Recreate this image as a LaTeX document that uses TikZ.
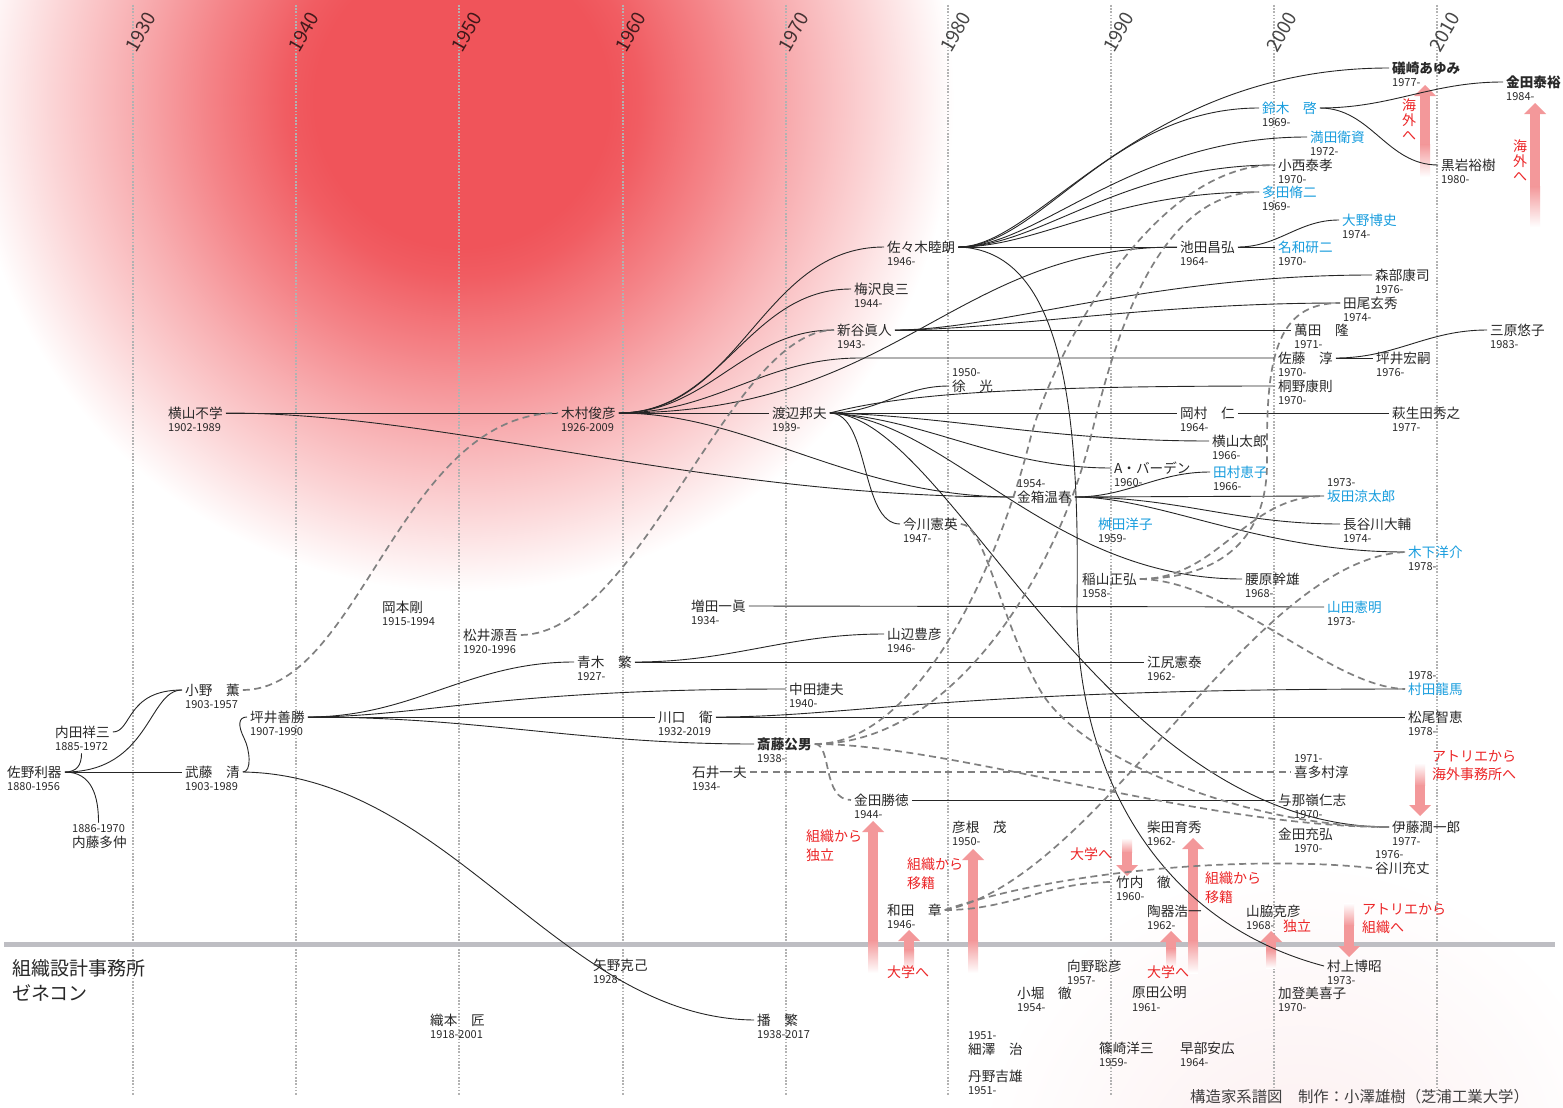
\documentclass[tikz,border=0pt]{standalone}
\usepackage{fontspec}
\setmainfont{Noto Sans CJK JP}
\definecolor{blobred}{RGB}{240,84,90}
\colorlet{blobA}{blobred!95!white}
\colorlet{blobB}{blobred!72!white}
\colorlet{blobC}{blobred!47!white}
\colorlet{blobD}{blobred!24!white}
\definecolor{glowc}{RGB}{252,238,239}
\definecolor{nameblue}{RGB}{24,157,222}
\definecolor{annred}{RGB}{236,38,40}
\definecolor{arrpink}{RGB}{243,152,154}
\definecolor{txt}{RGB}{40,40,40}
\definecolor{bandgray}{RGB}{190,190,195}
\pgfdeclareradialshading{blob}{\pgfpoint{0bp}{0bp}}{color(0bp)=(blobred); color(7.5bp)=(blobred); color(9bp)=(blobA); color(13bp)=(blobB); color(17bp)=(blobC); color(21bp)=(blobD); color(25bp)=(white); color(50bp)=(white)}
\pgfdeclareradialshading{glow}{\pgfpoint{0bp}{0bp}}{color(0bp)=(glowc); color(25bp)=(white); color(50bp)=(white)}
\tikzset{
  nm/.style={font=\fontsize{13.6}{16}\selectfont, text=txt, inner xsep=3pt, inner ysep=1pt, anchor=west},
  nmb/.style={font=\fontsize{13.6}{16}\selectfont\bfseries},
  yr/.style={font=\fontsize{11}{13}\selectfont, text=txt, inner sep=0pt, anchor=west},
  ln/.style={draw=black!85, line width=0.9pt},
  dsh/.style={draw=black!50, line width=1.7pt, dash pattern=on 7pt off 4.5pt},
  guide/.style={draw=black!30, line width=1.8pt, dash pattern=on 1.6pt off 1.6pt},
  yrl/.style={rotate=60, anchor=base west, font=\fontsize{19}{22}\selectfont, text=black, text opacity=0.72, inner sep=0pt},
  ann/.style={font=\fontsize{14}{18.5}\selectfont, text=annred, inner sep=0pt, anchor=north west, align=left},
  annv/.style={font=\fontsize{14}{15}\selectfont, text=annred, inner sep=0pt, anchor=north, align=center},
}
\newcommand\pp[6][]{\node[nm,#1] (#2) at (#3-3,#4) {#5};\node[yr] (#2y) at (#3,#4+15) {#6};}
\newcommand\pu[6][]{\node[nm,#1] (#2) at (#3-3,#4) {#5};\node[yr] (#2y) at (#3,#4-13) {#6};}
\newcommand\arrup[4][32]{%
  \fill[arrpink] (#2-5,#3+10) rectangle (#2+5,#4-#1);
  \shade[top color=arrpink,bottom color=white] (#2-5,#4-#1-0.5) rectangle (#2+5,#4);
  \fill[arrpink] (#2-11,#3+11) -- (#2,#3) -- (#2+11,#3+11) -- cycle;}
\newcommand\arrdn[4][32]{%
  \shade[top color=white,bottom color=arrpink] (#2-5,#3) rectangle (#2+5,#3+#1+0.5);
  \fill[arrpink] (#2-5,#3+#1) rectangle (#2+5,#4-10);
  \fill[arrpink] (#2-11,#4-11) -- (#2,#4) -- (#2+11,#4-11) -- cycle;}
\begin{document}
\begin{tikzpicture}[x=1pt,y=-1pt]
\useasboundingbox (0,0) rectangle (1563,1108);
\fill[white] (0,0) rectangle (1563,1108);
\begin{scope}
\clip (0,0) rectangle (1563,1108);
\shade[shading=blob] (462,100) circle[radius=492pt];
\shade[shading=glow] (1300,1190) circle[radius=330pt];
\end{scope}
% decade guides
\foreach \gx/\gy in {133/1930,296/1940,459/1950,623/1960,786/1970,948/1980,1111/1990,1274/2000,1437/2010}{
  \draw[guide] (\gx,5) -- (\gx,1095);
  \node[yrl] (g\gy) at (\gx+3,54) {\gy};
}
% band
\fill[bandgray] (4,941.5) rectangle (1555,946.5);
% arrows
\arrup{1425}{85}{177}
\arrup[40]{1535}{103}{227}
\arrdn[22]{1420}{763}{816}
\arrup{873}{821}{973}
\arrup{973}{849}{973}
\arrup[20]{909}{930}{970}
\arrdn[14]{1127}{838}{876}
\arrup{1193}{838}{973}
\arrup[18]{1171}{931}{967}
\arrup[18]{1271}{931}{968}
\arrdn[22]{1349}{903}{957}
% annotations
\node[annv] (a1) at (1409,99) {海\\外\\へ};
\node[annv] (a2) at (1520,140) {海\\外\\へ};
\node[ann] (a3) at (1432,750) {アトリエから\\海外事務所へ};
\node[ann] (a4) at (806,830) {組織から\\独立};
\node[ann] (a5) at (907,858) {組織から\\移籍};
\node[ann] (a6) at (887,965) {大学へ};
\node[ann] (a7) at (1070,847) {大学へ};
\node[ann] (a8) at (1205,872) {組織から\\移籍};
\node[ann] (a9) at (1147,965) {大学へ};
\node[ann] (a10) at (1283,920) {独立};
\node[ann] (a11) at (1362,903) {アトリエから\\組織へ};
\node[anchor=north west, align=left, font=\fontsize{19}{25}\selectfont, text=txt, inner sep=0pt] (org) at (12,959) {組織設計事務所\\ゼネコン};
\node[anchor=west, font=\fontsize{15.4}{18}\selectfont, text=black!75, inner sep=0pt] (credit) at (1190,1097) {構造家系譜図　制作：小澤雄樹（芝浦工業大学）};
% people
\pp{sano}{7}{772}{佐野利器}{1880-1956}
\pp{uchida}{55}{732}{内田祥三}{1885-1972}
\pu{naito}{72}{842}{内藤多仲}{1886-1970}
\pp{ono}{185}{690}{小野　薫}{1903-1957}
\pp{tsuboi}{250}{717}{坪井善勝}{1907-1990}
\pp{muto}{185}{772}{武藤　清}{1903-1989}
\pp{yokoyama}{168}{413}{横山不学}{1902-1989}
\pp{okamoto}{382}{607}{岡本剛}{1915-1994}
\pp{matsui}{463}{635}{松井源吾}{1920-1996}
\pp{kimura}{561}{413}{木村俊彦}{1926-2009}
\pp{watanabe}{772}{413}{渡辺邦夫}{1939-}
\pu{jo}{952}{386}{徐　光}{1950-}
\pp{imagawa}{903}{524}{今川憲英}{1947-}
\pp{masuda}{691}{606}{増田一眞}{1934-}
\pp{yamabe}{887}{634}{山辺豊彦}{1946-}
\pp{aoki}{577}{662}{青木　繁}{1927-}
\pp{nakata}{789}{689}{中田捷夫}{1940-}
\pp{kawaguchi}{658}{717}{川口　衛}{1932-2019}
\pp[nmb]{saito}{757}{744}{斎藤公男}{1938-}
\pp{ishii}{692}{772}{石井一夫}{1934-}
\pp{kanedak}{854}{800}{金田勝徳}{1944-}
\pp{hikone}{952}{827}{彦根　茂}{1950-}
\pp{wada}{887}{910}{和田　章}{1946-}
\pp{sasaki}{887}{247}{佐々木睦朗}{1946-}
\pp{umezawa}{854}{289}{梅沢良三}{1944-}
\pp{araya}{837}{330}{新谷眞人}{1943-}
\pp[nmb]{isozaki}{1392}{68}{礒崎あゆみ}{1977-}
\pp[nmb]{kanedaY}{1506}{82}{金田泰裕}{1984-}
\pp[text=nameblue]{suzuki}{1262}{108}{鈴木　啓}{1969-}
\pp[text=nameblue]{mitsuda}{1310}{137}{満田衛資}{1972-}
\pp{konishi}{1278}{165}{小西泰孝}{1970-}
\pp[text=nameblue]{tada}{1262}{192}{多田脩二}{1969-}
\pp[text=nameblue]{ohno}{1342}{220}{大野博史}{1974-}
\pp{ikeda}{1180}{247}{池田昌弘}{1964-}
\pp[text=nameblue]{nawa}{1278}{247}{名和研二}{1970-}
\pp{kuroiwa}{1441}{165}{黒岩裕樹}{1980-}
\pp{morobe}{1375}{275}{森部康司}{1976-}
\pp{tao}{1343}{303}{田尾玄秀}{1974-}
\pp{manda}{1294}{330}{萬田　隆}{1971-}
\pp{mihara}{1490}{330}{三原悠子}{1983-}
\pp{sato}{1278}{358}{佐藤　淳}{1970-}
\pp{tsuboiH}{1376}{358}{坪井宏嗣}{1976-}
\pp{kirino}{1278}{386}{桐野康則}{1970-}
\pp{okamura}{1180}{413}{岡村　仁}{1964-}
\pp{hagiuda}{1392}{413}{萩生田秀之}{1977-}
\pp{ytaro}{1212}{441}{横山太郎}{1966-}
\pp{barden}{1114}{468}{A・バーデン}{1960-}
\pp[text=nameblue]{tamura}{1213}{472}{田村恵子}{1966-}
\pu{kanebako}{1017}{497}{金箱温春}{1954-}
\pu[text=nameblue]{sakata}{1327}{496}{坂田涼太郎}{1973-}
\pp{hasegawa}{1343}{524}{長谷川大輔}{1974-}
\pp[text=nameblue]{masudaY}{1098}{524}{桝田洋子}{1959-}
\pp[text=nameblue]{kinoshita}{1408}{552}{木下洋介}{1978-}
\pp{inayama}{1082}{579}{稲山正弘}{1958-}
\pp{koshihara}{1245}{579}{腰原幹雄}{1968-}
\pp[text=nameblue]{yamada}{1327}{607}{山田憲明}{1973-}
\pp{ejiri}{1147}{662}{江尻憲泰}{1962-}
\pu[text=nameblue]{murata}{1408}{689}{村田龍馬}{1978-}
\pp{matsuo}{1408}{717}{松尾智恵}{1978-}
\pu{kitamura}{1294}{772}{喜多村淳}{1971-}
\node[nm] (yonamine) at (1275,800) {与那嶺仁志};
\node[yr] (yonaminey) at (1294,815) {1970-};
\pp{ito}{1392}{827}{伊藤潤一郎}{1977-}
\node[nm] (kanedam) at (1275,834) {金田充弘};
\node[yr] (kanedamy) at (1294,849) {1970-};
\pu{tanikawa}{1375}{868}{谷川充丈}{1976-}
\pp{shibata}{1147}{827}{柴田育秀}{1962-}
\pp{takeuchi}{1116}{882}{竹内　徹}{1960-}
\pp{toki}{1147}{911}{陶器浩一}{1962-}
\pp{yamawaki}{1246}{911}{山脇克彦}{1968-}
\pp{murakami}{1327}{966}{村上博昭}{1973-}
\pp{kono}{1067}{966}{向野聡彦}{1957-}
\pp{harada}{1132}{993}{原田公明}{1961-}
\pp{kato}{1278}{993}{加登美喜子}{1970-}
\pp{shinozaki}{1099}{1048}{篠崎洋三}{1959-}
\pp{hayabe}{1180}{1048}{早部安広}{1964-}
\pp{kobori}{1017}{993}{小堀　徹}{1954-}
\pu{hosozawa}{968}{1049}{細澤　治}{1951-}
\pp{tanno}{968}{1076}{丹野吉雄}{1951-}
\pp{yano}{593}{965}{矢野克己}{1928-}
\pp{ban}{757}{1020}{播　繁}{1938-2017}
\pp{orimoto}{430}{1020}{織本　匠}{1918-2001}
% solid connectors
\draw[ln] (sano.east) .. controls +(12,0) and +(0,12) .. ([yshift=-2pt]uchiday.south);
\draw[ln] (sano.east) .. controls +(28,0) and +(0,-25) .. ([yshift=2pt]naitoy.north);
\draw[ln] (sano.east) -- (muto.west);
\draw[ln] (sano.east) .. controls (150,772) and (148,690) .. (ono.west);
\draw[ln] (uchida.east) .. controls (132,732) and (126,690) .. (ono.west);
\draw[ln] (muto.east) .. controls (252,772) and (250,750) .. (244,738) .. controls (238,726) and (238,717) .. (tsuboi.west);
\draw[ln] (muto.east) .. controls (450,775) and (560,1018) .. (ban.west);
\draw[ln] (yokoyama.east) -- (kimura.west);
\draw[ln] (yokoyama.east) .. controls (450,413) and (700,497) .. (kanebako.west);
\draw[ln] (kimura.east) to[out=0,in=180] (sasaki.west);
\draw[ln] (kimura.east) to[out=0,in=180] (umezawa.west);
\draw[ln] (kimura.east) to[out=0,in=180] (araya.west);
\draw[ln] (kimura.east) to[out=0,in=180] (860,358) -- (sato.west);
\draw[ln] (kimura.east) .. controls (900,413) and (950,247) .. (ikeda.west);
\draw[ln] (kimura.east) -- (watanabe.west);
\draw[ln] (kimura.east) .. controls (750,413) and (850,497) .. (kanebako.west);
\draw[ln] (watanabe.east) to[out=0,in=180] (jo.west);
\draw[ln] (watanabe.east) -- (okamura.west);
\draw[ln] (watanabe.east) .. controls (900,395) and (1000,386) .. (kirino.west);
\draw[ln] (watanabe.east) .. controls (950,416) and (1050,441) .. (ytaro.west);
\draw[ln] (watanabe.east) .. controls (930,420) and (1000,468) .. (barden.west);
\draw[ln] (watanabe.east) .. controls (950,420) and (1050,579) .. (koshihara.west);
\draw[ln] (watanabe.east) .. controls (950,413) and (1100,827) .. (ito.west);
\draw[ln] (watanabe.east) .. controls (870,413) and (860,524) .. (imagawa.west);
\draw[ln] (sasaki.east) .. controls (1040,247) and (1140,68) .. (isozaki.west);
\draw[ln] (sasaki.east) .. controls (1040,247) and (1110,108) .. (suzuki.west);
\draw[ln] (sasaki.east) .. controls (1040,247) and (1130,137) .. (mitsuda.west);
\draw[ln] (sasaki.east) .. controls (1040,247) and (1120,165) .. (konishi.west);
\draw[ln] (sasaki.east) .. controls (1040,247) and (1110,192) .. (tada.west);
\draw[ln] (sasaki.east) -- (ikeda.west);
\draw[ln] (sasaki.east) .. controls (1060,250) and (1080,400) .. (1077,600) .. controls (1074,760) and (1150,920) .. (murakami.west);
\draw[ln] (ikeda.east) -- (nawa.west);
\draw[ln] (ikeda.east) to[out=0,in=180] (ohno.west);
\draw[ln] (suzuki.east) to[out=0,in=180] (kanedaY.west);
\draw[ln] (suzuki.east) to[out=0,in=180] (kuroiwa.west);
\draw[ln] (araya.east) -- (manda.west);
\draw[ln] (araya.east) .. controls (1000,330) and (1150,275) .. (morobe.west);
\draw[ln] (araya.east) .. controls (1000,330) and (1150,303) .. (tao.west);
\draw[ln] (sato.east) -- (tsuboiH.west);
\draw[ln] (sato.east) to[out=0,in=180] (mihara.west);
\draw[ln] (okamura.east) -- (hagiuda.west);
\draw[ln] (kanebako.east) to[out=0,in=180] (tamura.west);
\draw[ln] (kanebako.east) -- (sakata.west);
\draw[ln] (kanebako.east) to[out=0,in=180] (hasegawa.west);
\draw[ln] (kanebako.east) .. controls (1160,497) and (1260,552) .. (kinoshita.west);
\draw[ln] (aoki.east) to[out=0,in=180] (yamabe.west);
\draw[ln] (aoki.east) -- (ejiri.west);
\draw[ln] (tsuboi.east) to[out=0,in=180] (aoki.west);
\draw[ln] (tsuboi.east) .. controls (420,717) and (500,689) .. (nakata.west);
\draw[ln] (tsuboi.east) -- (kawaguchi.west);
\draw[ln] (tsuboi.east) to[out=0,in=180] (saito.west);
\draw[ln] (kawaguchi.east) -- (matsuo.west);
\draw[ln] (kawaguchi.east) .. controls (850,717) and (950,689) .. (murata.west);
\draw[ln] (masuda.east) -- (yamada.west);
\draw[ln] (kanedak.east) -- (yonamine.west);
% dashed connectors
\draw[dsh] (ono.east) .. controls (360,690) and (400,413) .. (kimura.west);
\draw[dsh] (matsui.east) .. controls (640,634) and (730,330) .. (araya.west);
\draw[dsh] (saito.east) .. controls (832,744) and (822,800) .. (kanedak.west);
\draw[dsh] (saito.east) .. controls (920,744) and (1000,560) .. (1030,440) .. controls (1050,360) and (1150,165) .. (konishi.west);
\draw[dsh] (saito.east) .. controls (960,744) and (1060,560) .. (1090,440) .. controls (1110,360) and (1150,192) .. (tada.west);
\draw[dsh] (saito.east) .. controls (950,744) and (1200,827) .. (ito.west);
\draw[dsh] (imagawa.east) .. controls (985,524) and (1000,620) .. (1040,690) .. controls (1080,760) and (1250,827) .. (ito.west);
\draw[dsh] (ishii.east) -- (kitamura.west);
\draw[dsh] (wada.east) to[out=0,in=180] (takeuchi.west);
\draw[dsh] (wada.east) .. controls (1060,870) and (1250,855) .. (tanikawa.west);
\draw[dsh] (wada.east) .. controls (1100,880) and (1250,560) .. (kinoshita.west);
\draw[dsh] (inayama.east) to[out=0,in=180] (sakata.west);
\draw[dsh] (inayama.east) .. controls (1220,578) and (1268,540) .. (1267,460) .. controls (1266,360) and (1275,303) .. (tao.west);
\draw[dsh] (inayama.east) .. controls (1230,580) and (1330,687) .. (murata.west);
\end{tikzpicture}
\end{document}
